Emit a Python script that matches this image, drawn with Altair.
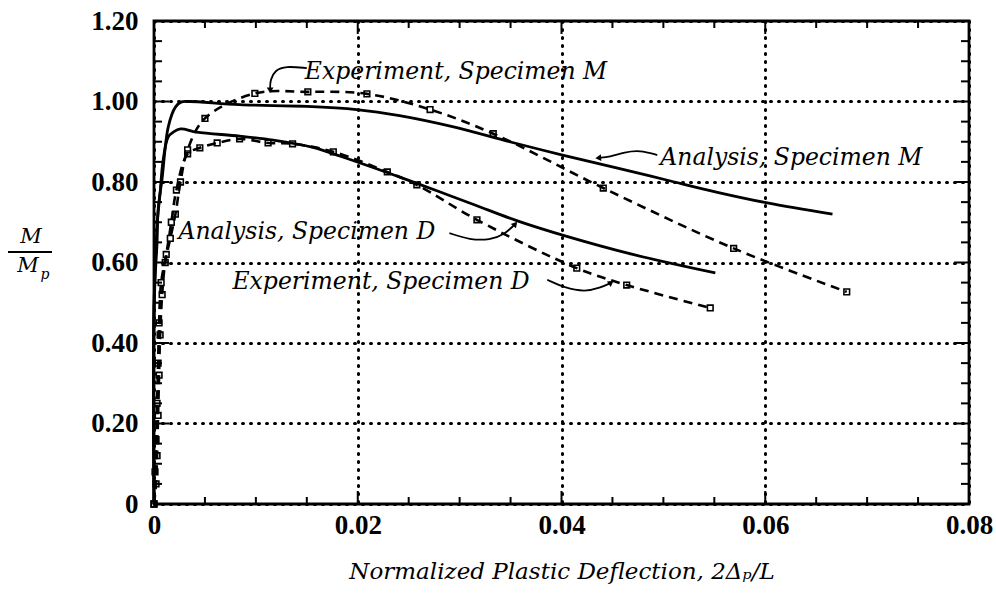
import altair as alt
import pandas as pd

# ---------------- data ----------------
# Analysis, Specimen M (solid)
am_x = [0, 0, 0.0003, 0.0004, 0.0008, 0.0014, 0.0021, 0.0027, 0.0035, 0.0084, 0.0150,
        0.0199, 0.0241, 0.0294, 0.0349, 0.0401, 0.0454, 0.0503, 0.0552, 0.0602, 0.0666]
am_y = [0, 0.50, 0.65, 0.73, 0.81, 0.937, 0.986, 0.999, 1.000, 0.992, 0.988,
        0.980, 0.965, 0.937, 0.900, 0.867, 0.835, 0.805, 0.775, 0.748, 0.720]

# Analysis, Specimen D (solid)
ad_x = [0, 0, 0.0003, 0.0006, 0.0009, 0.0014, 0.0019, 0.0026, 0.0042, 0.0084, 0.0117,
        0.0156, 0.0183, 0.0215, 0.0248, 0.0281, 0.0315, 0.0356, 0.0401, 0.0470, 0.0551]
ad_y = [0, 0.45, 0.69, 0.773, 0.855, 0.912, 0.924, 0.932, 0.924, 0.914, 0.904,
        0.886, 0.864, 0.836, 0.806, 0.775, 0.743, 0.704, 0.668, 0.620, 0.574]

# Experiment, Specimen M (dashed + squares)
em_x = [0, 0.0002, 0.0003, 0.0004, 0.0005, 0.0006, 0.0008, 0.0011, 0.0016, 0.0021, 0.0026,
        0.0033, 0.0050, 0.0099, 0.0151, 0.0209, 0.0271, 0.0333, 0.0441, 0.0569, 0.0680]
em_y = [0, 0.05, 0.12, 0.22, 0.32, 0.42, 0.52, 0.60, 0.66, 0.72, 0.80,
        0.88, 0.958, 1.020, 1.024, 1.019, 0.980, 0.920, 0.785, 0.635, 0.527]

# Experiment, Specimen D (dashed + squares)
ed_x = [0, 0.0001, 0.0002, 0.0003, 0.0004, 0.0005, 0.0007, 0.0012, 0.0017, 0.0022, 0.0033,
        0.0045, 0.0062, 0.0084, 0.0112, 0.0136, 0.0176, 0.0229, 0.0258, 0.0317, 0.0415,
        0.0464, 0.0546]
ed_y = [0, 0.08, 0.16, 0.25, 0.35, 0.45, 0.55, 0.62, 0.70, 0.78, 0.87,
        0.885, 0.897, 0.907, 0.897, 0.895, 0.875, 0.825, 0.793, 0.706, 0.586,
        0.544, 0.487]

# tick values
x_major = [0, 0.02, 0.04, 0.06, 0.08]
y_major = [0, 0.2, 0.4, 0.6, 0.8, 1.0, 1.2]
x_minor = [0.005, 0.01, 0.015, 0.025, 0.03, 0.035, 0.045, 0.05, 0.055, 0.065, 0.07, 0.075]
y_minor = [0.05, 0.1, 0.15, 0.25, 0.3, 0.35, 0.45, 0.5, 0.55, 0.65, 0.7, 0.75,
           0.85, 0.9, 0.95, 1.05, 1.1, 1.15]

# annotations
ann_text = ["Experiment, Specimen M", "Analysis, Specimen M",
            "Analysis, Specimen D", "Experiment, Specimen D"]
ann_x = [0.0148, 0.0497, 0.0024, 0.0077]
ann_y = [1.073, 0.860, 0.676, 0.552]

arrow_em_x = [0.0150, 0.0129, 0.0119, 0.0114, 0.0114]
arrow_em_y = [1.083, 1.088, 1.078, 1.054, 1.030]
arrow_am_x = [0.0494, 0.0477, 0.0462, 0.0447, 0.0437]
arrow_am_y = [0.867, 0.879, 0.874, 0.862, 0.860]
arrow_ad_x = [0.0290, 0.0310, 0.0330, 0.0344, 0.0354]
arrow_ad_y = [0.673, 0.656, 0.656, 0.670, 0.694]
arrow_ed_x = [0.0386, 0.0403, 0.0423, 0.0438, 0.0448]
arrow_ed_y = [0.557, 0.537, 0.527, 0.537, 0.549]
head_x = [0.0114, 0.0437, 0.0354, 0.0448]
head_y = [1.030, 0.860, 0.694, 0.549]
head_angle = [180, 265, 40, 55]

# ---------------- chart ----------------
W, H = 815, 483


def df(xs, ys):
    return pd.DataFrame({"x": xs, "y": ys, "o": list(range(len(xs)))})


xscale = alt.Scale(domain=[0, 0.08], nice=False, zero=False)
yscale = alt.Scale(domain=[0, 1.2], nice=False, zero=False)

label_expr = "datum.value == 0 ? '0' : format(datum.value, '.2f')"
grid_kw = dict(grid=True, gridDash=[1, 7], gridCap="round", gridWidth=3, gridColor="black",
               ticks=False, domain=False, labelFlush=False, labelOverlap=False,
               labelFont="Liberation Serif", labelFontWeight="bold", labelFontSize=27,
               labelColor="black", labelExpr=label_expr)
xaxis = alt.Axis(values=x_major, labelPadding=8,
                 title="Normalized Plastic Deflection, 2Δₚ/L",
                 titleFont="DejaVu Serif", titleFontStyle="italic", titleFontWeight="normal",
                 titleFontSize=23, titleColor="black", titlePadding=22, **grid_kw)
yaxis = alt.Axis(values=y_major, labelPadding=16, title=None, **grid_kw)

X = alt.X("x:Q", scale=xscale, axis=xaxis)
Y = alt.Y("y:Q", scale=yscale, axis=yaxis)


def solid(xs, ys):
    return alt.Chart(df(xs, ys)).mark_line(
        color="black", strokeWidth=2.8, interpolate="catmull-rom"
    ).encode(x=X, y=Y, order="o:Q")


def dashed(xs, ys):
    d = df(xs, ys)
    line = alt.Chart(d).mark_line(
        color="black", strokeWidth=2.6, strokeDash=[9, 6], interpolate="catmull-rom"
    ).encode(x=X, y=Y, order="o:Q")
    pts = alt.Chart(d).mark_point(
        shape="square", filled=False, size=32, strokeWidth=1.6, color="black", opacity=1
    ).encode(x=X, y=Y)
    return line + pts


layers = [solid(am_x, am_y), solid(ad_x, ad_y), dashed(em_x, em_y), dashed(ed_x, ed_y)]

# inward ticks on all four sides
for vals, ln in [(x_major, 13), (x_minor, 7)]:
    d = pd.DataFrame({"x": vals})
    layers.append(alt.Chart(d).mark_rule(color="black", strokeWidth=2).encode(
        x=X, y=alt.value(H), y2=alt.value(H - ln)))
    layers.append(alt.Chart(d).mark_rule(color="black", strokeWidth=2).encode(
        x=X, y=alt.value(0), y2=alt.value(ln)))
for vals, ln in [(y_major, 15), (y_minor, 8)]:
    d = pd.DataFrame({"y": vals})
    layers.append(alt.Chart(d).mark_rule(color="black", strokeWidth=2).encode(
        y=Y, x=alt.value(0), x2=alt.value(ln)))
    layers.append(alt.Chart(d).mark_rule(color="black", strokeWidth=2).encode(
        y=Y, x=alt.value(W), x2=alt.value(W - ln)))

# annotation texts
ann = pd.DataFrame({"x": ann_x, "y": ann_y, "t": ann_text})
layers.append(alt.Chart(ann).mark_text(
    align="left", baseline="middle", font="DejaVu Serif", fontStyle="italic",
    fontSize=23.5, color="black"
).encode(x=X, y=Y, text="t:N"))

# arrows
for ax_, ay_ in [(arrow_em_x, arrow_em_y), (arrow_am_x, arrow_am_y),
                 (arrow_ad_x, arrow_ad_y), (arrow_ed_x, arrow_ed_y)]:
    layers.append(alt.Chart(df(ax_, ay_)).mark_line(
        color="black", strokeWidth=1.8, interpolate="basis"
    ).encode(x=X, y=Y, order="o:Q"))
heads = pd.DataFrame({"x": head_x, "y": head_y, "a": head_angle})
layers.append(alt.Chart(heads).mark_point(
    shape="triangle", filled=True, size=45, color="black", opacity=1
).encode(x=X, y=Y, angle=alt.Angle("a:Q", scale=None)))

# y-axis title as a fraction M / M_p
one = pd.DataFrame({"t": ["M"]})
tfont = dict(font="DejaVu Serif", fontStyle="italic", fontSize=21, color="black",
             baseline="middle", align="center")
layers.append(alt.Chart(one).mark_text(**tfont).encode(
    x=alt.value(-123), y=alt.value(216), text="t:N"))
layers.append(alt.Chart(one).mark_text(**tfont).encode(
    x=alt.value(-126), y=alt.value(245), text="t:N"))
layers.append(alt.Chart(pd.DataFrame({"t": ["p"]})).mark_text(
    font="DejaVu Serif", fontStyle="italic", fontSize=14, color="black",
    baseline="middle", align="center"
).encode(x=alt.value(-109), y=alt.value(254), text="t:N"))
layers.append(alt.Chart(one).mark_rule(color="black", strokeWidth=2).encode(
    x=alt.value(-146), x2=alt.value(-102), y=alt.value(231)))

chart = alt.layer(*layers).properties(
    width=W, height=H,
    autosize=alt.AutoSizeParams(type="none"),
    padding={"left": 154, "top": 21, "right": 27, "bottom": 94},
    background="white",
).configure_view(stroke="black", strokeWidth=2.8)

chart.save("out.html", embed_options={"renderer": "svg", "actions": False})
